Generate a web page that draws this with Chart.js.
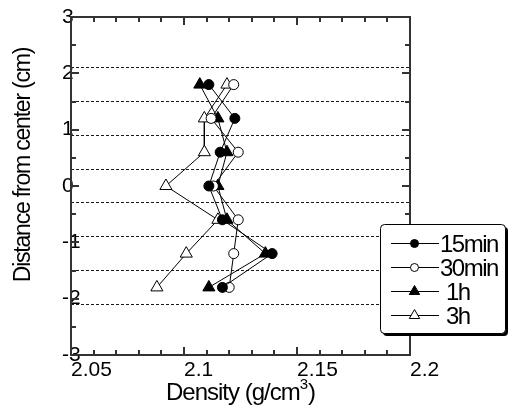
<!DOCTYPE html>
<html><head><meta charset="utf-8">
<script src="https://cdn.jsdelivr.net/npm/chart.js@4/dist/chart.umd.min.js"></script>
<style>html,body{margin:0;padding:0;background:#fff;}canvas{display:block;}</style>
</head><body>
<div style="width:509px;height:407px;position:relative"><canvas id="c" width="509" height="407"></canvas></div>
<script>
// ---- data ----
const distances    = [1.8, 1.2, 0.6, 0, -0.6, -1.2, -1.8];
const density15min = [2.111, 2.1225, 2.116, 2.111, 2.117, 2.139, 2.117];
const density30min = [2.122, 2.112, 2.124, 2.113, 2.124, 2.122, 2.120];
const density1h    = [2.107, 2.115, 2.119, 2.115, 2.119, 2.136, 2.111];
const density3h    = [2.119, 2.109, 2.109, 2.092, 2.115, 2.101, 2.088];
const seriesLabels = ['15min', '30min', '1h', '3h'];
const xTickValues      = [2.05, 2.1, 2.15, 2.2];
const xMinorTickValues = [2.06, 2.07, 2.08, 2.09, 2.11, 2.12, 2.13, 2.14, 2.16, 2.17, 2.18, 2.19];
const yTickValues      = [-3, -2, -1, 0, 1, 2, 3];
const yMinorTickValues = [-2.5, -1.5, -0.5, 0.5, 1.5, 2.5];
const dashedLineValues = [2.1, 1.5, 0.9, 0.3, -0.3, -0.9, -1.5, -2.1];
const xTitleMain = 'Density (g/cm', xTitleSup = '3', xTitleEnd = ')';
const yTitle = 'Distance from center (cm)';

const FONT = '"Liberation Sans", Arial, sans-serif';
const markerStyles = [
  {pointStyle: 'circle',   fill: '#000', r: 5,   lr: 4},
  {pointStyle: 'circle',   fill: '#fff', r: 5,   lr: 4},
  {pointStyle: 'triangle', fill: '#000', r: 7,   lr: 6},
  {pointStyle: 'triangle', fill: '#fff', r: 7,   lr: 6}
];
const seriesValues = [density15min, density30min, density1h, density3h];

const datasets = seriesValues.map((vals, i) => ({
  label: seriesLabels[i],
  data: vals.map((v, j) => ({x: v, y: distances[j]})),
  showLine: true,
  borderColor: '#000',
  borderWidth: 1,
  pointStyle: markerStyles[i].pointStyle,
  pointRadius: markerStyles[i].r,
  pointHoverRadius: markerStyles[i].r,
  pointBackgroundColor: markerStyles[i].fill,
  pointBorderColor: '#000',
  pointBorderWidth: 1,
  tension: 0,
  fill: false
}));

function drawMarker(ctx, style, r, fill, x, y) {
  ctx.save();
  ctx.fillStyle = fill; ctx.strokeStyle = '#000'; ctx.lineWidth = 1;
  ctx.beginPath();
  if (style === 'circle') {
    ctx.arc(x, y, r, 0, Math.PI * 2);
  } else {
    let a = 0;
    ctx.moveTo(x + Math.sin(a) * r, y - Math.cos(a) * r);
    a += 2 * Math.PI / 3;
    ctx.lineTo(x + Math.sin(a) * r, y - Math.cos(a) * r);
    a += 2 * Math.PI / 3;
    ctx.lineTo(x + Math.sin(a) * r, y - Math.cos(a) * r);
    ctx.closePath();
  }
  ctx.fill(); ctx.stroke();
  ctx.restore();
}

const framePlugin = {
  id: 'frame',
  beforeDatasetsDraw(chart) {
    const ctx = chart.ctx;
    const {left, right, top, bottom} = chart.chartArea;
    const xs = chart.scales.x, ys = chart.scales.y;
    ctx.save();
    ctx.strokeStyle = '#333';
    ctx.lineWidth = 2;
    ctx.strokeRect(left, top, right - left, bottom - top);
    const tick = (x1, y1, x2, y2) => { ctx.beginPath(); ctx.moveTo(x1, y1); ctx.lineTo(x2, y2); ctx.stroke(); };
    xTickValues.forEach(v => { const p = Math.round(xs.getPixelForValue(v)); tick(p, bottom, p, bottom - 8); tick(p, top, p, top + 8); });
    xMinorTickValues.forEach(v => { const p = Math.round(xs.getPixelForValue(v)); tick(p, bottom, p, bottom - 5); tick(p, top, p, top + 5); });
    yTickValues.forEach(v => { const p = Math.round(ys.getPixelForValue(v)); tick(left, p, left + 8, p); tick(right, p, right - 8, p); });
    yMinorTickValues.forEach(v => { const p = Math.round(ys.getPixelForValue(v)); tick(left, p, left + 5, p); tick(right, p, right - 5, p); });
    ctx.restore();
  },
  afterDraw(chart) {
    const ctx = chart.ctx;
    const {left, right} = chart.chartArea;
    ctx.save();
    ctx.fillStyle = '#000';
    // x title with superscript
    ctx.font = '24px ' + FONT;
    ctx.letterSpacing = '-1px';
    const w1 = ctx.measureText(xTitleMain).width;
    const w3 = ctx.measureText(xTitleEnd).width;
    ctx.font = '15px ' + FONT;
    const w2 = ctx.measureText(xTitleSup).width;
    const total = w1 + w2 + w3 + 1;
    let x0 = (left + right) / 2 - total / 2;
    const base = 400;
    ctx.textBaseline = 'alphabetic';
    ctx.textAlign = 'left';
    ctx.font = '24px ' + FONT;
    ctx.fillText(xTitleMain, x0, base);
    ctx.font = '15px ' + FONT;
    ctx.fillText(xTitleSup, x0 + w1, base - 11);
    ctx.font = '24px ' + FONT;
    ctx.fillText(xTitleEnd, x0 + w1 + w2 + 1, base);
    // y title
    ctx.save();
    ctx.translate(30, 165);
    ctx.rotate(-Math.PI / 2);
    ctx.font = '23px ' + FONT;
    ctx.letterSpacing = '-1.2px';
    ctx.textAlign = 'center';
    ctx.fillText(yTitle, 0, 0);
    ctx.restore();

    // legend
    const bx = 380, by = 224, bw = 125, bh = 109;
    ctx.letterSpacing = '0px';
    ctx.fillStyle = '#000';
    ctx.beginPath(); ctx.roundRect(bx + 3, by + 3, bw, bh, 4); ctx.fill();
    ctx.fillStyle = '#fff'; ctx.strokeStyle = '#000'; ctx.lineWidth = 1;
    ctx.beginPath(); ctx.roundRect(bx + 0.5, by + 0.5, bw, bh, 4); ctx.fill(); ctx.stroke();
    const rowY = [243, 266.5, 290.5, 314.5];
    chart.data.datasets.forEach((ds, i) => {
      const y = Math.round(rowY[i]) + 0.5;
      ctx.strokeStyle = '#000'; ctx.lineWidth = 1;
      ctx.beginPath(); ctx.moveTo(391, y); ctx.lineTo(439, y); ctx.stroke();
      drawMarker(ctx, markerStyles[i].pointStyle, markerStyles[i].lr, markerStyles[i].fill, 414.5, y);
      ctx.fillStyle = '#000';
      ctx.font = '24px ' + FONT;
      ctx.letterSpacing = '-1.5px';
      ctx.textAlign = 'left';
      ctx.textBaseline = 'alphabetic';
      const tx = ds.label.length < 3 ? 446 : 440;
      ctx.fillText(ds.label, tx, rowY[i] + 9);
    });
    ctx.restore();
  }
};

new Chart(document.getElementById('c'), {
  type: 'scatter',
  data: {datasets},
  options: {
    responsive: false,
    animation: false,
    devicePixelRatio: 1,
    layout: {padding: {left: 0, top: 17, right: 99, bottom: 0}},
    plugins: {legend: {display: false}, tooltip: {enabled: false}},
    scales: {
      x: {
        type: 'linear', min: 2.05, max: 2.2,
        afterBuildTicks: s => { s.ticks = xTickValues.map(v => ({value: v})); },
        afterFit: s => { s.height = 52; },
        ticks: {align: 'start', padding: 3, maxRotation: 0, autoSkip: false, color: '#000',
                font: {family: FONT, size: 21}, callback: v => String(v)},
        grid: {display: false, drawTicks: false},
        border: {display: false}
      },
      y: {
        type: 'linear', position: 'left', min: -3, max: 3,
        afterBuildTicks: s => { s.ticks = yTickValues.map(v => ({value: v})); },
        afterFit: s => { s.width = 71; },
        ticks: {mirror: true, padding: -9, autoSkip: false, color: '#000',
                font: {family: FONT, size: 21}, callback: v => String(v)},
        grid: {display: false, drawTicks: false},
        border: {display: false}
      },
      yg: {
        type: 'linear', position: 'right', min: -3, max: 3,
        afterBuildTicks: s => { s.ticks = dashedLineValues.map(v => ({value: v})); },
        afterFit: s => { s.width = 0; },
        ticks: {display: false},
        grid: {display: true, drawTicks: false, color: '#1a1a1a', lineWidth: 1, borderDash: [3, 2]},
        border: {display: false, dash: [3, 2]}
      }
    }
  },
  plugins: [framePlugin]
});
</script>
</body></html>
